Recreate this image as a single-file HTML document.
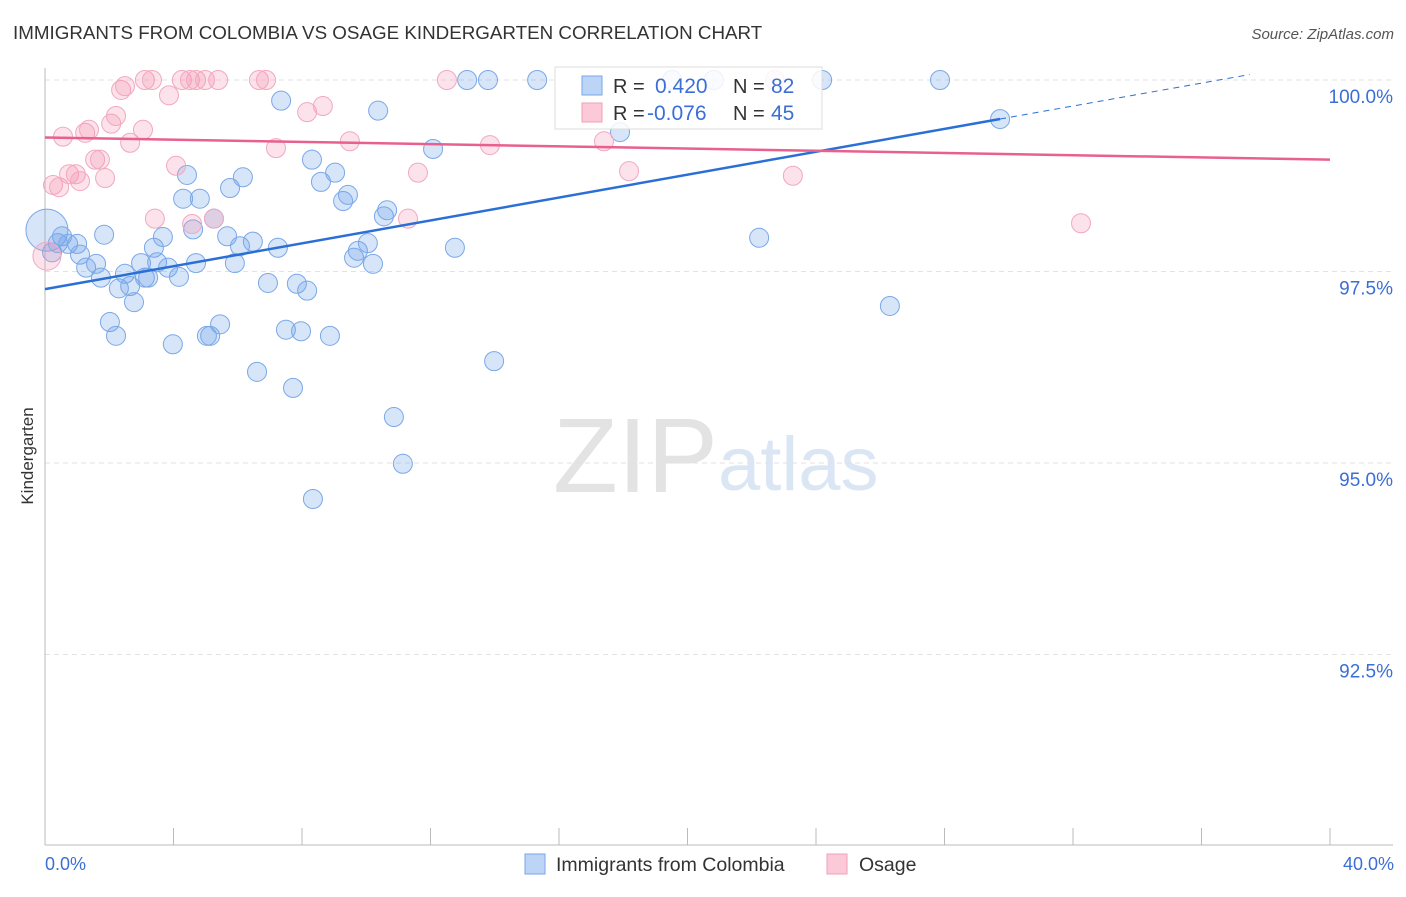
<!DOCTYPE html>
<html><head><meta charset="utf-8"><style>
body{margin:0;background:#fff;font-family:"Liberation Sans",sans-serif;}
svg text{font-family:"Liberation Sans",sans-serif;}
</style></head><body>
<svg id="chart" width="1406" height="892" xmlns="http://www.w3.org/2000/svg">
<text x="13" y="39" font-size="18.8" fill="#333">IMMIGRANTS FROM COLOMBIA VS OSAGE KINDERGARTEN CORRELATION CHART</text>
<text x="1394" y="39" font-size="15" fill="#555" text-anchor="end" font-style="italic">Source: ZipAtlas.com</text>
<g>
<text x="553" y="492" font-size="106" fill="#e3e3e3" font-family="Liberation Serif">ZIP</text>
<text x="718" y="490" font-size="76" fill="#dbe6f5">atlas</text>
</g>
<g id="grid"></g>
<g id="axes"></g>
<g id="pts"></g>
<g id="trends"></g>
<text transform="translate(33,456) rotate(-90)" font-size="17" fill="#333" text-anchor="middle">Kindergarten</text>
<text x="45" y="870" font-size="18" fill="#3b6fd6">0.0%</text>
<text x="1394" y="870" font-size="18" fill="#3b6fd6" text-anchor="end">40.0%</text>
<g>
<rect x="555" y="67" width="267" height="62" fill="rgba(255,255,255,0.85)" stroke="#ddd"/>
<rect x="582" y="76" width="20" height="19" fill="#bcd4f6" stroke="#7aa6e8"/>
<rect x="582" y="103" width="20" height="19" fill="#fcc9d8" stroke="#f0a0b8"/>
<text x="613" y="93" font-size="20" fill="#333">R =</text>
<text x="655" y="93" font-size="21" fill="#3b6fd6">0.420</text>
<text x="733" y="93" font-size="20" fill="#333">N =</text>
<text x="771" y="93" font-size="21" fill="#3b6fd6">82</text>
<text x="613" y="120" font-size="20" fill="#333">R =</text>
<text x="647" y="120" font-size="21" fill="#3b6fd6">-0.076</text>
<text x="733" y="120" font-size="20" fill="#333">N =</text>
<text x="771" y="120" font-size="21" fill="#3b6fd6">45</text>
</g>
<g>
<rect x="525" y="854" width="20" height="20" fill="#bcd4f6" stroke="#7aa6e8"/>
<text x="556" y="871" font-size="19.5" fill="#333">Immigrants from Colombia</text>
<rect x="827" y="854" width="20" height="20" fill="#fcc9d8" stroke="#f0a0b8"/>
<text x="859" y="871" font-size="19.5" fill="#333">Osage</text>
</g>
</svg>
<script>
const yTicks=[92.5,95.0,97.5,100.0];
const yTickLabels=["92.5%","95.0%","97.5%","100.0%"];
const xTicks=[0,4,8,12,16,20,24,28,32,36,40];
const blueX=[0.06,0.22,0.40,0.53,0.72,1.00,1.09,1.28,1.59,1.74,1.84,2.02,2.21,2.30,2.49,2.65,2.77,2.99,3.11,3.21,3.39,3.49,3.67,3.83,3.98,4.17,4.30,4.42,4.61,4.70,4.82,5.04,5.14,5.26,5.45,5.67,5.76,5.91,6.07,6.16,6.47,6.60,6.94,7.25,7.35,7.50,7.72,7.84,7.97,8.16,8.31,8.34,8.59,8.87,9.03,9.28,9.43,9.62,9.74,10.05,10.21,10.37,10.55,10.65,10.86,11.14,12.08,12.76,13.14,13.79,13.98,15.32,17.90,19.52,20.82,22.23,24.19,26.30,27.86,29.73];
const blueY=[98.04,97.75,97.87,97.96,97.86,97.86,97.72,97.55,97.60,97.42,97.98,96.84,96.66,97.28,97.47,97.31,97.10,97.61,97.42,97.42,97.81,97.62,97.95,97.55,96.55,97.43,98.45,98.76,98.05,97.61,98.45,96.66,96.66,98.19,96.81,97.96,98.59,97.61,97.83,98.73,97.89,96.19,97.35,97.81,99.73,96.74,95.98,97.34,96.72,97.25,98.96,94.53,98.67,96.66,98.79,98.42,98.50,97.68,97.77,97.87,97.60,99.60,98.22,98.30,95.60,94.99,99.10,97.81,100,100,96.33,100,99.32,100,100,97.94,100,97.05,100,99.49];
const pinkX=[0.06,0.25,0.44,0.56,0.75,0.96,1.09,1.25,1.37,1.56,1.71,1.87,2.06,2.21,2.37,2.49,2.65,3.05,3.11,3.33,3.42,3.86,4.08,4.26,4.51,4.58,4.70,4.98,5.26,5.39,6.66,6.88,7.19,8.16,8.65,9.49,11.30,11.61,12.51,13.85,17.40,18.18,22.72,23.28,32.25];
const pinkY=[97.70,98.63,98.60,99.26,98.77,98.77,98.68,99.31,99.35,98.96,98.96,98.72,99.43,99.53,99.87,99.92,99.18,99.35,100,100,98.19,99.80,98.88,100,100,98.12,100,100,98.19,100,100,100,99.11,99.58,99.66,99.20,98.19,98.79,100,99.15,99.20,98.81,100,98.75,98.13];
const blueTrend=[97.27,0.0747];
const pinkTrend=[99.25,-0.00725];
const NS="http://www.w3.org/2000/svg";
const X=v=>45+v*32.125, Y=v=>80+(100-v)*76.6;
function mk(tag,attrs,parent){const e=document.createElementNS(NS,tag);for(const k in attrs)e.setAttribute(k,attrs[k]);document.getElementById(parent).appendChild(e);return e;}
yTicks.forEach((t,i)=>{
 const l=mk('line',{x1:45,x2:1393,y1:Y(t),y2:Y(t),stroke:'#e2e2e2','stroke-dasharray':'5,4'},'grid');
 
 
 const tx=mk('text',{x:1393,y:Y(t)+23,'font-size':19,fill:'#3b6fd6','text-anchor':'end'},'grid');
 tx.textContent=yTickLabels[i];
 
 
});
let a=mk('line',{x1:45,x2:45,y1:68,y2:845,stroke:'#bbb'},'axes');


a=mk('line',{x1:45,x2:1393,y1:845,y2:845,stroke:'#bbb'},'axes');


xTicks.forEach(t=>{const l=mk('line',{x1:X(t),x2:X(t),y1:828,y2:845,stroke:'#bbb'},'axes');
 
 });
function dots(xs,ys,fill,stroke,name,bigR){xs.forEach((x,i)=>{
 const c=mk('circle',{cx:X(x),cy:Y(ys[i]),r:i===0?bigR:9.5,fill:fill,stroke:stroke,'stroke-width':1},'pts');
 
 });}
dots(blueX,blueY,'rgba(110,160,235,0.28)','#7aa8e8','colombia-point',21);
dots(pinkX,pinkY,'rgba(245,150,180,0.28)','#f2a8c0','osage-point',14);
let t=mk('line',{x1:X(0),y1:Y(blueTrend[0]),x2:X(29.73),y2:Y(blueTrend[0]+blueTrend[1]*29.73),stroke:'#2a6fd6','stroke-width':2.5},'trends');


t=mk('line',{x1:X(29.73),y1:Y(blueTrend[0]+blueTrend[1]*29.73),x2:X(37.5),y2:Y(blueTrend[0]+blueTrend[1]*37.5),stroke:'#2a6fd6','stroke-width':1,'stroke-dasharray':'6,5'},'trends');


t=mk('line',{x1:X(0),y1:Y(pinkTrend[0]),x2:X(40),y2:Y(pinkTrend[0]+pinkTrend[1]*40),stroke:'#e8608e','stroke-width':2.5},'trends');


</script>
</body></html>
